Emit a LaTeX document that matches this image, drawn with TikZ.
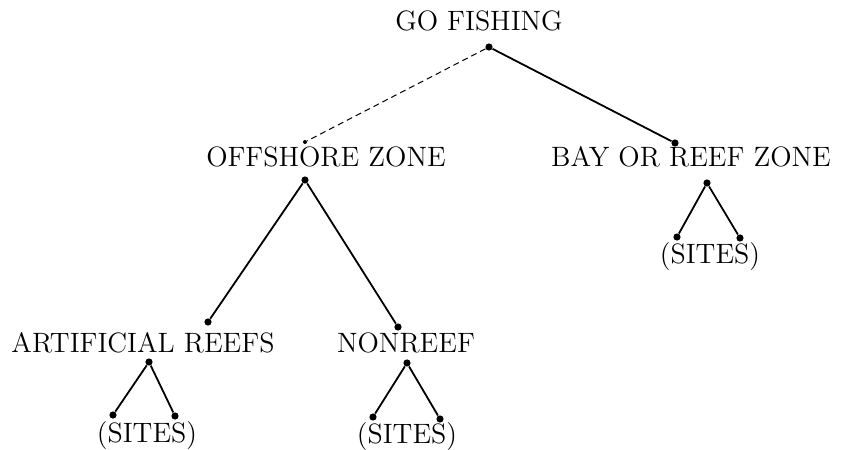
\documentclass[tikz,border=0pt]{standalone}
\usepackage{tikz}
\usetikzlibrary{positioning}

\begin{document}
\begin{tikzpicture}[
    x=0.5pt, y=-0.5pt,
    lbl/.style={font=\fontsize{14}{16}\selectfont, inner sep=0pt},
    dot/.style={circle, fill=black, inner sep=0pt, minimum size=3.6pt},
    link/.style={line width=0.9pt},
    faint/.style={line width=0.5pt, densely dashed},
]
\useasboundingbox (0,0) rectangle (843,450);

\node[lbl] (go)  at (479,21)  {GO FISHING};
\node[lbl] (off) at (326,157) {OFFSHORE ZONE};
\node[lbl] (bay) at (691,157) {BAY OR REEF ZONE};
\node[lbl] (art) at (143,343) {ARTIFICIAL REEFS};
\node[lbl] (non) at (406,343) {NONREEF};
\node[lbl] (s1)  at (147,436) {(SITES)};
\node[lbl] (s2)  at (407,437) {(SITES)};
\node[lbl] (s3)  at (710,257) {(SITES)};

% dots at the line ends
\node[dot] (go-b)  at (489,47)  {};
\node[dot, minimum size=2pt] (off-t) at (305,142) {};
\node[dot] (bay-t) at (675,143) {};
\node[dot] (off-b) at (305,180) {};
\node[dot] (art-t) at (208,322) {};
\node[dot] (non-t) at (398,327) {};
\node[dot] (art-b) at (149,362) {};
\node[dot] (s1-l)  at (113,415) {};
\node[dot] (s1-r)  at (175,416) {};
\node[dot] (non-b) at (407,363) {};
\node[dot] (s2-l)  at (373,417) {};
\node[dot] (s2-r)  at (440,419) {};
\node[dot] (bay-b) at (707,183) {};
\node[dot] (s3-l)  at (677,237) {};
\node[dot] (s3-r)  at (740,238) {};

\draw[faint] (go-b) -- (off-t);
\foreach \a/\b in {go-b/bay-t,off-b/art-t,off-b/non-t,art-b/s1-l,art-b/s1-r,
                   non-b/s2-l,non-b/s2-r,bay-b/s3-l,bay-b/s3-r}{
  \draw[link] (\a) -- (\b);
}

\end{tikzpicture}
\end{document}
